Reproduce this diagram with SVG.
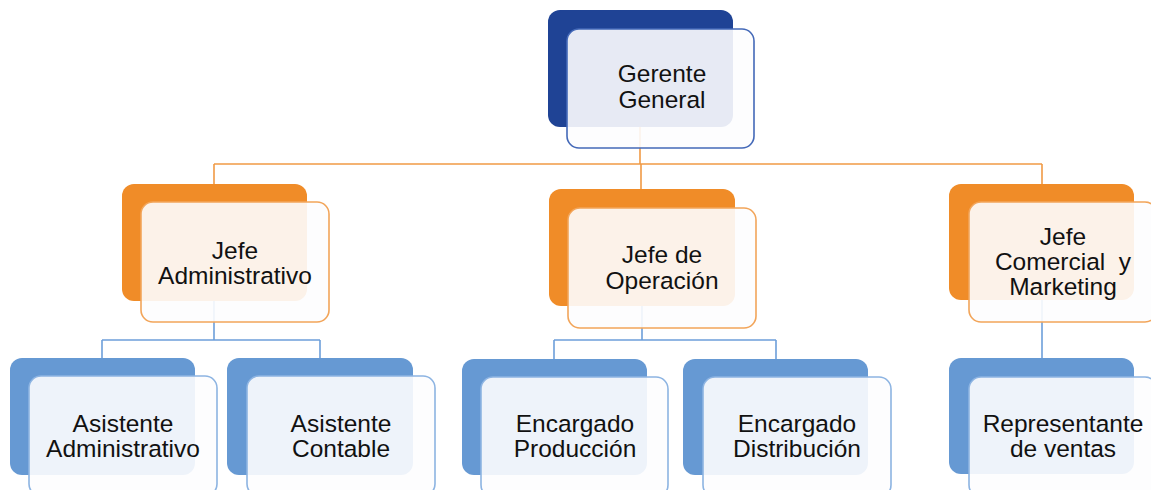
<svg xmlns="http://www.w3.org/2000/svg" width="1151" height="490" viewBox="0 0 1151 490">
<style>
.bg{fill:#ffffff}
.c-or{fill:none;stroke:#F19A45;stroke-width:1.6}
.c-bl{fill:none;stroke:#6D9FDA;stroke-width:1.6}
.d-top{fill:#1F4395}
.d-or{fill:#F08C28}
.d-bl{fill:#6699D3}
.f{fill:#fdfdfe;fill-opacity:0.9;stroke-width:1.6}
.f-top{stroke:#4469B8}
.f-or{stroke:#F2A55A}
.f-bl{stroke:#8DB4E2}
text{font-family:"Liberation Sans",Arial,sans-serif;font-size:24.5px;fill:#111111;text-anchor:middle}
</style>
<rect class="bg" x="0" y="0" width="1151" height="490"/>
<g id="connectors">
<path class="c-or" d="M640,127 V164 M214,164 H1042 M214,164 V184 M641,164 V189 M1042,164 V184"/>
<path class="c-bl" d="M214,301 V340 M102,340 H320 M102,340 V358 M320,340 V358"/>
<path class="c-bl" d="M642,306 V340 M554,340 H776 M554,340 V359 M776,340 V359"/>
<path class="c-bl" d="M1042,300 V358"/>
</g>
<g id="gerente">
<rect class="d-top" x="548" y="10" width="185" height="117" rx="12"/>
<rect class="f f-top" x="567" y="29" width="187" height="119" rx="12"/>
<text x="662" y="82">Gerente</text>
<text x="662" y="108">General</text>
</g>
<g id="jefe-admin">
<rect class="d-or" x="122" y="184" width="185" height="117" rx="12"/>
<rect class="f f-or" x="141" y="202" width="188" height="120" rx="12"/>
<text x="235" y="259">Jefe</text>
<text x="235" y="284">Administrativo</text>
</g>
<g id="jefe-operacion">
<rect class="d-or" x="549" y="189" width="186" height="117" rx="12"/>
<rect class="f f-or" x="568" y="208" width="188" height="120" rx="12"/>
<text x="662" y="263">Jefe de</text>
<text x="662" y="289">Operación</text>
</g>
<g id="jefe-comercial">
<rect class="d-or" x="949" y="184" width="185" height="116" rx="12"/>
<rect class="f f-or" x="969" y="202" width="188" height="120" rx="12"/>
<text x="1063" y="245">Jefe</text>
<text x="1063" y="270">Comercial&#160; y</text>
<text x="1063" y="295">Marketing</text>
</g>
<g id="asistente-admin">
<rect class="d-bl" x="10" y="358" width="185" height="117" rx="12"/>
<rect class="f f-bl" x="29" y="376" width="188" height="120" rx="12"/>
<text x="123" y="432">Asistente</text>
<text x="123" y="457">Administrativo</text>
</g>
<g id="asistente-contable">
<rect class="d-bl" x="227" y="358" width="186" height="117" rx="12"/>
<rect class="f f-bl" x="247" y="376" width="188" height="120" rx="12"/>
<text x="341" y="432">Asistente</text>
<text x="341" y="457">Contable</text>
</g>
<g id="encargado-produccion">
<rect class="d-bl" x="462" y="359" width="185" height="116" rx="12"/>
<rect class="f f-bl" x="481" y="377" width="187" height="120" rx="12"/>
<text x="575" y="432">Encargado</text>
<text x="575" y="457">Producción</text>
</g>
<g id="encargado-distribucion">
<rect class="d-bl" x="683" y="359" width="185" height="116" rx="12"/>
<rect class="f f-bl" x="703" y="377" width="188" height="120" rx="12"/>
<text x="797" y="432">Encargado</text>
<text x="797" y="457">Distribución</text>
</g>
<g id="representante">
<rect class="d-bl" x="949" y="358" width="185" height="116" rx="12"/>
<rect class="f f-bl" x="969" y="377" width="188" height="120" rx="12"/>
<text x="1063" y="432">Representante</text>
<text x="1063" y="457">de ventas</text>
</g>
</svg>
